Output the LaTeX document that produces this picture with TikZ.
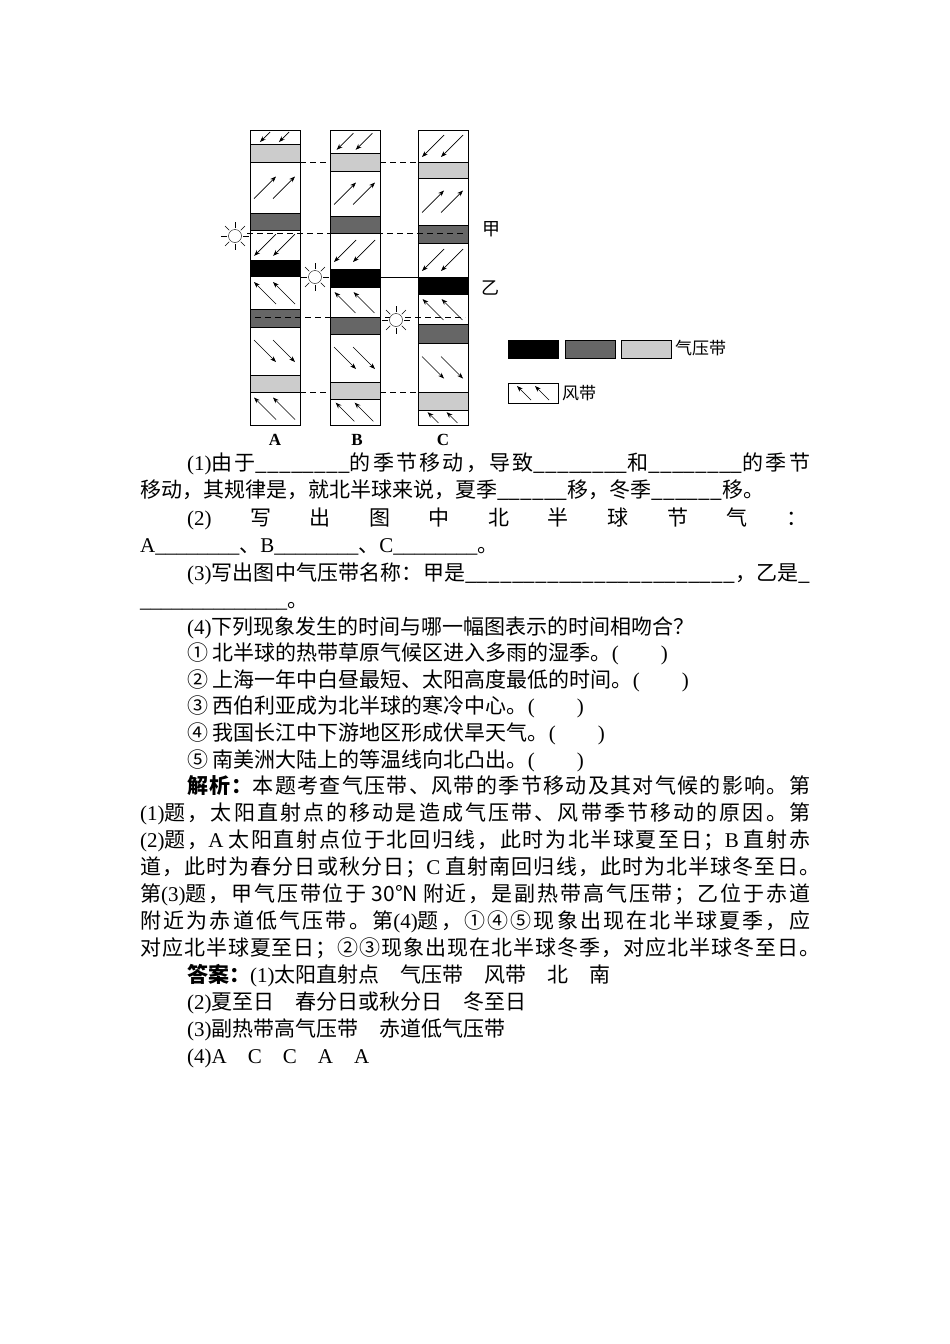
\documentclass[tikz,border=0pt]{standalone}
\usepackage{fontspec}
\setmainfont{Liberation Serif}
\newfontfamily\cjk{Noto Sans CJK SC}
\newfontfamily\lat{Liberation Serif}
\usetikzlibrary{arrows.meta,calc}
\XeTeXinterchartokenstate=1
\newXeTeXintercharclass\cjkclass
\newcommand{\setcls}[2]{\count255=#1 \loop\ifnum\count255<#2 \XeTeXcharclass\count255=\cjkclass \advance\count255 by 1 \repeat}
\setcls{"4E00}{"A000}\setcls{"3000}{"3040}\setcls{"FF00}{"FFF0}\setcls{"2460}{"2474}
\XeTeXinterchartoks 0 \cjkclass = {\cjk}
\XeTeXinterchartoks 4095 \cjkclass = {\cjk}
\XeTeXinterchartoks \cjkclass 0 = {\lat}
\XeTeXinterchartoks \cjkclass \cjkclass = {\hskip0pt plus 2pt\relax}
\definecolor{dk}{gray}{0.4}
\definecolor{lt}{gray}{0.8}
\newcommand{\wz}[5]{% x-left, ytop, ybot, dx, dy
 \pgfmathsetmacro{\yc}{(#2+#3)/2}\pgfmathsetmacro{\s}{min((#3-#2)*0.36,11)}
 \foreach \cx in {#1+15,#1+34}{
 \draw[warr] ({\cx-#4*\s},{\yc-#5*\s}) -- ({\cx+#4*\s},{\yc+#5*\s});}}
\newcommand{\sun}[2]{\draw[thin,fill=white] (#1,#2) circle (6.5);
 \foreach \a in {0,45,...,315}\draw[thin] ($(#1,#2)+(\a:8)$) -- ($(#1,#2)+(\a:14)$);}
\begin{document}
\begin{tikzpicture}[x=1pt,y=-1pt,
 warr/.style={-{Stealth[length=6pt,width=4.5pt]},line width=0.7pt},
 col/.style={draw,line width=0.8pt},
 band/.style={draw,line width=0.6pt},
 dsh/.style={dashed,dash pattern=on 6pt off 4pt,line width=0.6pt},
 txt/.style={anchor=base west,inner sep=0pt,font=\fontsize{21}{21}\selectfont}]
\useasboundingbox (0,0) rectangle (950,1344);
\draw[dsh] (300,162) -- (418,162);
\draw[dsh] (300,392) -- (418,392);
% column A
\draw[col,fill=white] (250,130) rectangle (300,425);
\fill[lt] (250,144) rectangle (300,162); \draw[band] (250,144) rectangle (300,162);
\fill[dk] (250,213) rectangle (300,230); \draw[band] (250,213) rectangle (300,230);
\fill[black] (250,260) rectangle (300,277);
\fill[dk] (250,309) rectangle (300,327); \draw[band] (250,309) rectangle (300,327);
\fill[lt] (250,375) rectangle (300,392); \draw[band] (250,375) rectangle (300,392);
% column B
\draw[col,fill=white] (330,130) rectangle (380,425);
\fill[lt] (330,153) rectangle (380,171); \draw[band] (330,153) rectangle (380,171);
\fill[dk] (330,216) rectangle (380,233); \draw[band] (330,216) rectangle (380,233);
\fill[black] (330,269) rectangle (380,288);
\fill[dk] (330,317) rectangle (380,334); \draw[band] (330,317) rectangle (380,334);
\fill[lt] (330,382) rectangle (380,399); \draw[band] (330,382) rectangle (380,399);
% column C
\draw[col,fill=white] (418,130) rectangle (468,425);
\fill[lt] (418,162) rectangle (468,178); \draw[band] (418,162) rectangle (468,178);
\fill[dk] (418,225) rectangle (468,243); \draw[band] (418,225) rectangle (468,243);
\fill[black] (418,277) rectangle (468,295);
\fill[dk] (418,324) rectangle (468,343); \draw[band] (418,324) rectangle (468,343);
\fill[lt] (418,392) rectangle (468,410); \draw[band] (418,392) rectangle (468,410);
\draw[col] (250,130) rectangle (300,425);
\draw[col] (330,130) rectangle (380,425);
\draw[col] (418,130) rectangle (468,425);
\draw[dsh] (247,233) -- (465,233);
\draw[dsh] (255,317) -- (465,317);
\draw[line width=0.6pt] (380,277) -- (418,277);
% winds
\wz{250}{130}{144}{-1}{1}\wz{250}{162}{213}{1}{-1}\wz{250}{230}{260}{-1}{1}
\wz{250}{277}{309}{-1}{-1}\wz{250}{327}{375}{1}{1}\wz{250}{392}{425}{-1}{-1}
\wz{330}{130}{153}{-1}{1}\wz{330}{171}{216}{1}{-1}\wz{330}{233}{269}{-1}{1}
\wz{330}{288}{317}{-1}{-1}\wz{330}{334}{382}{1}{1}\wz{330}{399}{425}{-1}{-1}
\wz{418}{130}{162}{-1}{1}\wz{418}{178}{225}{1}{-1}\wz{418}{243}{277}{-1}{1}
\wz{418}{295}{324}{-1}{-1}\wz{418}{343}{392}{1}{1}\wz{418}{410}{425}{-1}{-1}
\sun{235}{236}\sun{315}{277}\sun{396}{320}
\node[font=\fontsize{18}{18}\selectfont\cjk] (jia) at (491,229) {甲};
\node[font=\fontsize{18}{18}\selectfont\cjk] (yi) at (490,288) {乙};
\node[font=\bfseries\fontsize{17}{17}\selectfont] (la) at (275,440) {A};
\node[font=\bfseries\fontsize{17}{17}\selectfont] (lb) at (357,440) {B};
\node[font=\bfseries\fontsize{17}{17}\selectfont] (lc) at (443,440) {C};
% legend
\draw[band,fill=black] (508,340) rectangle (558,358);
\draw[band,fill=dk] (565,340) rectangle (615,358);
\draw[band,fill=lt] (621,340) rectangle (671,358);
\node[anchor=west,font=\fontsize{17}{17}\selectfont\cjk,inner sep=0pt] (lg1) at (675,348) {气压带};
\draw[band] (508,383) rectangle (558,403);
\foreach \cx in {524,542}\draw[warr] (\cx+7,400) -- (\cx-7,386);
\node[anchor=west,font=\fontsize{17}{17}\selectfont\cjk,inner sep=0pt] (lg2) at (562,393) {风带};
% text
\node[txt] at (187,470) {\hbox to 623pt{(1)由于\_\_\_\_\_\_\_\_的季节移动，导致\_\_\_\_\_\_\_\_和\_\_\_\_\_\_\_\_的季节}};
\node[txt] at (140,497) {移动，其规律是，就北半球来说，夏季\_\_\_\_\_\_移，冬季\_\_\_\_\_\_移。};
\node[txt] at (187,525) {\hbox to 620pt{(2)\hfil 写\hfil 出\hfil 图\hfil 中\hfil 北\hfil 半\hfil 球\hfil 节\hfil 气\hfil ：}};
\node[txt] at (140,552) {A\_\_\_\_\_\_\_\_、B\_\_\_\_\_\_\_\_、C\_\_\_\_\_\_\_\_。};
\node[txt] at (187,580) {\hbox to 623pt{(3)写出图中气压带名称：甲是\_\_\_\_\_\_\_\_\_\_\_\_\_\_\_\_\_\_\_\_\_\_\_，乙是\_}};
\node[txt] at (140,607) {\_\_\_\_\_\_\_\_\_\_\_\_\_\_。};
\node[txt] at (187,634) {(4)下列现象发生的时间与哪一幅图表示的时间相吻合？};
\node[txt] at (187,660) {① 北半球的热带草原气候区进入多雨的湿季。(\hspace{2em})};
\node[txt] at (187,687) {② 上海一年中白昼最短、太阳高度最低的时间。(\hspace{2em})};
\node[txt] at (187,713) {③ 西伯利亚成为北半球的寒冷中心。(\hspace{2em})};
\node[txt] at (187,740) {④ 我国长江中下游地区形成伏旱天气。(\hspace{2em})};
\node[txt] at (187,767) {⑤ 南美洲大陆上的等温线向北凸出。(\hspace{2em})};
\node[txt] at (187,793) {\hbox to 623pt{\textbf{解析：}本题考查气压带、风带的季节移动及其对气候的影响。第}};
\node[txt] at (140,820) {\hbox to 670pt{(1)题，太阳直射点的移动是造成气压带、风带季节移动的原因。第}};
\node[txt] at (140,847) {\hbox to 670pt{(2)题，A\kern5pt 太阳直射点位于北回归线，此时为北半球夏至日；B\kern5pt 直射赤}};
\node[txt] at (140,874) {\hbox to 680pt{道，此时为春分日或秋分日；C\kern5pt 直射南回归线，此时为北半球冬至日。}};
\node[txt] at (140,901) {\hbox to 670pt{第(3)题，甲气压带位于\kern5pt 30°N\kern5pt 附近，是副热带高气压带；乙位于赤道}};
\node[txt] at (140,928) {\hbox to 670pt{附近为赤道低气压带。第(4)题，①④⑤现象出现在北半球夏季，应}};
\node[txt] at (140,955) {\hbox to 680pt{对应北半球夏至日；②③现象出现在北半球冬季，对应北半球冬至日。}};
\node[txt] at (187,982) {\textbf{答案：}(1)太阳直射点　气压带　风带　北　南};
\node[txt] at (187,1009) {(2)夏至日　春分日或秋分日　冬至日};
\node[txt] at (187,1036) {(3)副热带高气压带　赤道低气压带};
\node[txt] at (187,1063) {(4)A　C　C　A　A};
\end{tikzpicture}
\end{document}
